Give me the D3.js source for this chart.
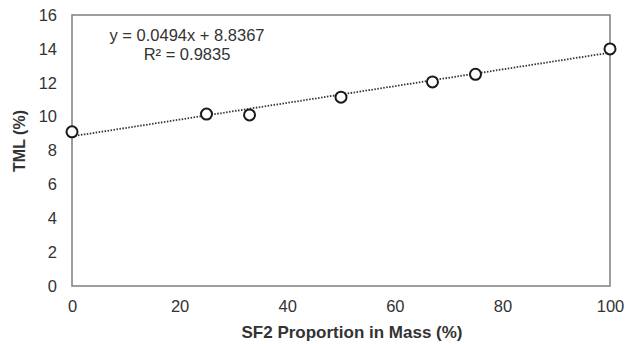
<!DOCTYPE html>
<html>
<head>
<meta charset="utf-8">
<script src="https://cdn.jsdelivr.net/npm/d3@7"></script>
<style>
  body { margin: 0; background: #fff; }
  text { font-family: "Liberation Sans", Arial, sans-serif; }
</style>
</head>
<body>
<svg></svg>
<script>
const SIZE = { width: 625, height: 344 }
const margin = { top: 15, right: 15, bottom: 58, left: 72 }

const proportions = [0, 25, 33, 50, 67, 75, 100]
const tml = [9.1, 10.15, 10.1, 11.15, 12.05, 12.5, 14.0]
const xTicks = [0, 20, 40, 60, 80, 100]
const yTicks = [0, 2, 4, 6, 8, 10, 12, 14, 16]
const slope = 0.0494
const intercept = 8.8367
const equationLines = ['y = 0.0494x + 8.8367', 'R² = 0.9835']

const FONT = 16.5

const svg = d3.select('svg')
  .attr('width', SIZE.width)
  .attr('height', SIZE.height)

const x = d3.scaleLinear().domain([0, 100]).range([margin.left, SIZE.width - margin.right])
const y = d3.scaleLinear().domain([0, 16]).range([SIZE.height - margin.bottom, margin.top])

// frame
svg.append('rect')
  .attr('x', x(0))
  .attr('y', y(16))
  .attr('width', x(100) - x(0))
  .attr('height', y(0) - y(16))
  .attr('fill', 'none')
  .attr('stroke', '#7f7f7f')
  .attr('stroke-width', 1.5)

const xAxis = svg.append('g')
  .attr('transform', `translate(0, ${y(0)})`)
  .call(d3.axisBottom(x).tickValues(xTicks).tickSize(0).tickPadding(14))
xAxis.select('.domain').remove()

const yAxis = svg.append('g')
  .attr('transform', `translate(${x(0)}, 0)`)
  .call(d3.axisLeft(y).tickValues(yTicks).tickSize(0).tickPadding(15))
yAxis.select('.domain').remove()

svg.selectAll('.tick text')
  .attr('font-family', '"Liberation Sans", Arial, sans-serif')
  .attr('font-size', FONT)
  .attr('fill', '#333')

// trend line
svg.append('line')
  .attr('x1', x(0))
  .attr('y1', y(intercept))
  .attr('x2', x(100))
  .attr('y2', y(intercept + slope * 100))
  .attr('stroke', '#333')
  .attr('stroke-width', 1.8)
  .attr('stroke-dasharray', '1.5,1.5')

svg.append('g')
  .selectAll('circle')
  .data(proportions)
  .join('circle')
    .attr('cx', d => x(d))
    .attr('cy', (d, i) => y(tml[i]))
    .attr('r', 5.5)
    .attr('fill', '#fff')
    .attr('stroke', '#1a1a1a')
    .attr('stroke-width', 2)

svg.append('g')
  .selectAll('text')
  .data(equationLines)
  .join('text')
    .attr('x', 187)
    .attr('y', (d, i) => 41 + i * 19)
    .attr('text-anchor', 'middle')
    .attr('font-size', FONT)
    .attr('fill', '#333')
    .text(d => d)

svg.append('text')
  .attr('x', (x(0) + x(100)) / 2 + 11)
  .attr('y', 338)
  .attr('text-anchor', 'middle')
  .attr('font-size', 17)
  .attr('font-weight', 'bold')
  .attr('fill', '#333')
  .text('SF2 Proportion in Mass (%)')

svg.append('text')
  .attr('transform', 'translate(25, 141) rotate(-90)')
  .attr('text-anchor', 'middle')
  .attr('font-size', 16)
  .attr('font-weight', 'bold')
  .attr('fill', '#333')
  .text('TML (%)')
</script>
</body>
</html>
